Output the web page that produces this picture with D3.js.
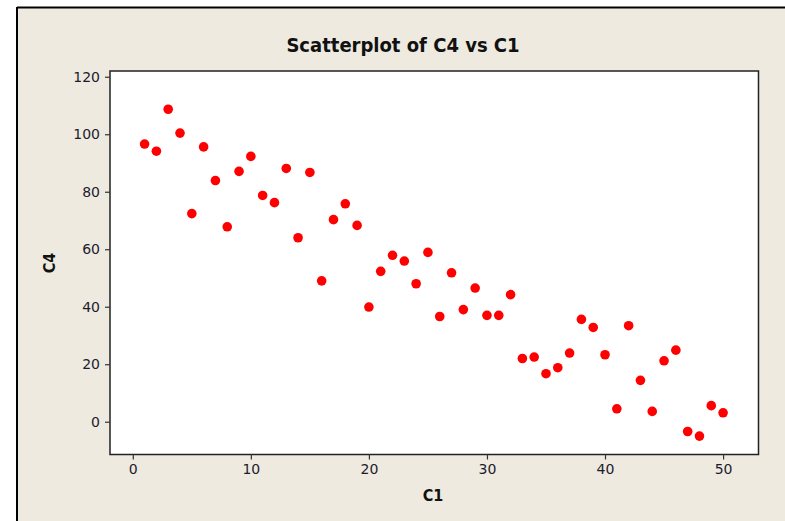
<!DOCTYPE html>
<html>
<head>
<meta charset="utf-8">
<script src="https://cdn.jsdelivr.net/npm/d3@7"></script>
<style>
  html, body { margin: 0; padding: 0; background: #fff; }
  svg { display: block; }
</style>
</head>
<body>
<svg id="chart" width="785" height="521"></svg>
<script>
// ---- data ----
const c1 = d3.range(1, 51);
const c4 = [96.6, 94.1, 108.7, 100.4, 72.4, 95.6, 83.9, 67.8, 87.1, 92.3,
            78.7, 76.2, 88.1, 64.0, 86.7, 49.0, 70.3, 75.8, 68.3, 39.9,
            52.3, 57.9, 55.9, 48.0, 58.9, 36.6, 51.8, 39.0, 46.5, 37.0,
            37.0, 44.2, 22.0, 22.5, 16.7, 18.8, 23.9, 35.6, 32.8, 23.3,
            4.5, 33.4, 14.4, 3.6, 21.2, 24.9, -3.4, -5.0, 5.6, 3.1];
const xTicks = [0, 10, 20, 30, 40, 50];
const yTicks = [0, 20, 40, 60, 80, 100, 120];
const title = "Scatterplot of C4 vs C1";
const xLabel = "C1";
const yLabel = "C4";

const svg = d3.select("#chart");

// frame
svg.append("rect").attr("x", 17).attr("y", 7).attr("width", 785 - 17).attr("height", 521 - 7)
  .attr("fill", "#EEEAE0");
svg.append("line").attr("x1", 17).attr("x2", 785).attr("y1", 7.5).attr("y2", 7.5)
  .attr("stroke", "#000").attr("stroke-width", 2);
svg.append("line").attr("x1", 17).attr("x2", 17).attr("y1", 7).attr("y2", 521)
  .attr("stroke", "#000").attr("stroke-width", 2);

const plot = { left: 110, top: 71, right: 758.5, bottom: 454.5 };

const x = d3.scaleLinear().domain([-1.93, 53]).range([plot.left, plot.right]);
const y = d3.scaleLinear().domain([-11.4, 122]).range([plot.bottom, plot.top]);

svg.append("rect")
  .attr("x", plot.left).attr("y", plot.top)
  .attr("width", plot.right - plot.left).attr("height", plot.bottom - plot.top)
  .attr("fill", "#fff").attr("stroke", "#222").attr("stroke-width", 1.5);

const tickFont = "'DejaVu Sans', Verdana, sans-serif";

const xAxis = svg.append("g")
  .attr("transform", `translate(0,${plot.bottom})`)
  .call(d3.axisBottom(x).tickValues(xTicks).tickSize(5).tickPadding(5).tickFormat(d3.format("d")));
const yAxis = svg.append("g")
  .attr("transform", `translate(${plot.left},0)`)
  .call(d3.axisLeft(y).tickValues(yTicks).tickSize(5).tickPadding(5).tickFormat(d3.format("d")));

[xAxis, yAxis].forEach(g => {
  g.select(".domain").remove();
  g.selectAll(".tick line").attr("stroke", "#333").attr("stroke-width", 1.2);
  g.selectAll(".tick text").attr("fill", "#1c1c2c")
    .style("font-family", tickFont).style("font-size", "14px");
});

// points
svg.append("g").selectAll("circle")
  .data(c1.map((d, i) => [d, c4[i]]))
  .join("circle")
  .attr("cx", d => x(d[0]))
  .attr("cy", d => y(d[1]))
  .attr("r", 4.8)
  .attr("fill", "#FF0000");

// title & labels
svg.append("text")
  .attr("x", 403).attr("y", 51.5)
  .attr("text-anchor", "middle")
  .style("font-family", "'DejaVu Sans Condensed', 'DejaVu Sans', sans-serif")
  .style("font-weight", "bold").style("font-size", "20px")
  .attr("fill", "#111")
  .text(title);

svg.append("text")
  .attr("x", 433).attr("y", 501)
  .attr("text-anchor", "middle")
  .style("font-family", "'DejaVu Sans Condensed', 'DejaVu Sans', sans-serif")
  .style("font-weight", "bold").style("font-size", "16px")
  .attr("fill", "#111")
  .text(xLabel);

svg.append("text")
  .attr("transform", "translate(55,263) rotate(-90)")
  .attr("text-anchor", "middle")
  .style("font-family", "'DejaVu Sans Condensed', 'DejaVu Sans', sans-serif")
  .style("font-weight", "bold").style("font-size", "16px")
  .attr("fill", "#111")
  .text(yLabel);
</script>
</body>
</html>
